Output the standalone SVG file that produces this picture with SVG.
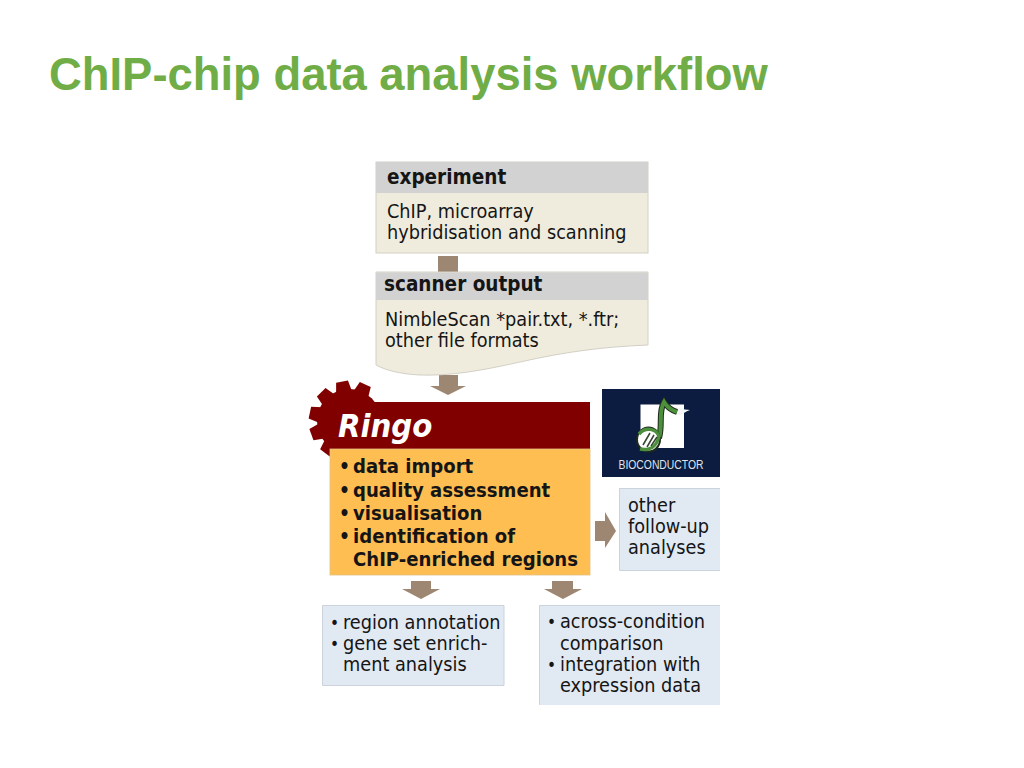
<svg xmlns="http://www.w3.org/2000/svg" width="1024" height="768" viewBox="0 0 1024 768">
<style>
text{font-family:"DejaVu Sans Condensed","DejaVu Sans",sans-serif;font-stretch:condensed;fill:#151515}
.t{font-size:19.700px}
.b{font-size:20.500px;font-weight:bold}
.o{font-size:20.100px;font-weight:bold}
.d{font-size:19px;font-weight:bold}
.s{font-size:17px}
.arrow{fill:#9e8772}
.cream{fill:#f0ecdd;stroke:#d2d0c6;stroke-width:1}
.grey{fill:#d2d2d2}
.blue{fill:#e1e9f3}
.edge{fill:none;stroke:#ccd3dc;stroke-width:1}
</style>
<rect width="1024" height="768" fill="#fff"/>
<text id="title" x="49" y="90" style="font-family:'Liberation Sans',Arial,sans-serif;font-stretch:normal;font-size:45.400px;font-weight:bold;fill:#70ad47">ChIP-chip data analysis workflow</text>
<g id="connectors">
<rect class="arrow" x="438" y="256" width="20" height="17"/>
<path class="arrow" d="M439 375H458V386H466L448 395L430 386H439Z"/>
<path class="arrow" d="M595 521H605V512L616 531L605 548V541H595Z"/>
<path class="arrow" d="M411 581H431V589H440L421 599L402 589H411Z"/>
<path class="arrow" d="M552 581H573V589H582L563 599L544 589H552Z"/>
</g>
<g id="experiment">
<rect class="cream" x="376" y="162" width="272" height="91"/>
<rect class="grey" x="376" y="162" width="272" height="31"/>
<text class="b" x="387" y="184">experiment</text>
<text class="t" x="387" y="218">ChIP, microarray</text>
<text class="t" x="387" y="239">hybridisation and scanning</text>
</g>
<g id="scanner">
<path class="cream" d="M376 272H648V345C600 347 565 352 520 362C480 371 450 376 420 375C400 374 385 370 376 365Z"/>
<rect class="grey" x="376" y="272.500" width="272" height="27.500"/>
<text class="b" x="384" y="291">scanner output</text>
<text class="t" x="385" y="326">NimbleScan *pair.txt, *.ftr;</text>
<text class="t" x="385" y="347">other file formats</text>
</g>
<g id="ringo">
<g fill="#800000">
<circle cx="349" cy="421" r="32"/>
<path d="M341 392L343 381H355L357 392Z" transform="rotate(-10 349 421)"/>
<path d="M341 392L343 381H355L357 392Z" transform="rotate(24 349 421)"/>
<path d="M341 392L343 381H355L357 392Z" transform="rotate(-44 349 421)"/>
<path d="M341 392L343 381H355L357 392Z" transform="rotate(-78 349 421)"/>
<path d="M341 392L343 381H355L357 392Z" transform="rotate(-110 349 421)"/>
<path d="M341 392L343 381H355L357 392Z" transform="rotate(-143 349 421)"/>
<rect x="329" y="402" width="261" height="47"/>
</g>
<rect x="330" y="449" width="260" height="126" fill="#ffbe52" stroke="#e0c080" stroke-width="0.800"/>
<text x="338" y="437" style="font-size:32.500px;font-weight:bold;font-style:italic;fill:#fff">Ringo</text>
<text class="d" x="339" y="473">•</text>
<text class="o" x="353" y="473">data import</text>
<text class="d" x="339" y="497">•</text>
<text class="o" x="353" y="497">quality assessment</text>
<text class="d" x="339" y="520">•</text>
<text class="o" x="353" y="520">visualisation</text>
<text class="d" x="339" y="543">•</text>
<text class="o" x="353" y="543">identification of</text>
<text class="o" x="353" y="566">ChIP-enriched regions</text>
</g>
<g id="bioconductor">
<rect x="602" y="389" width="118" height="88" fill="#0c1c40"/>
<rect x="640.500" y="404.500" width="43.500" height="43.500" fill="#fff"/>
<path d="M663 399C667 405 676 409 690 410C684 412 681 416 677 415C672 413 669 412 666 411Z" fill="#f4f7f4"/>
<path d="M659 438C663 425 658 412 664 402C667 407 671 410 677 412" fill="none" stroke="#1f2b1c" stroke-width="6"/>
<path d="M659 438C663 425 658 412 664 402C667 407 671 410 677 412" fill="none" stroke="#4c8f3c" stroke-width="4"/>
<ellipse cx="648.500" cy="439.500" rx="11.500" ry="12" fill="#fff" stroke="#1f2b1c" stroke-width="2"/>
<path d="M639 434C646 426 656 429 659 436C657 446 650 451 640 449" fill="none" stroke="#4c8f3c" stroke-width="3.500"/>
<path d="M643 445L650 433M647 447L654 435M651 446L657 437" stroke="#33452f" stroke-width="1.500" fill="none"/>
<text x="661" y="469" text-anchor="middle" textLength="85" lengthAdjust="spacingAndGlyphs" style="font-size:12px;fill:#dfe3ea;font-family:'Liberation Sans',sans-serif;font-stretch:normal">BIOCONDUCTOR</text>
</g>
<g id="other">
<rect class="blue" x="619" y="488" width="101" height="82"/>
<path class="edge" d="M720 488.500H619.500V570.500H720"/>
<text class="t" x="628" y="512">other</text>
<text class="t" x="628" y="533">follow-up</text>
<text class="t" x="628" y="554">analyses</text>
</g>
<g id="annotation">
<rect class="blue" x="322" y="605" width="182" height="80"/>
<path class="edge" d="M322.500 605.500H504V685.500H322.500Z"/>
<text class="s" x="330" y="629">•</text>
<text class="t" x="343" y="629">region annotation</text>
<text class="s" x="330" y="650">•</text>
<text class="t" x="343" y="650">gene set enrich-</text>
<text class="t" x="343" y="671">ment analysis</text>
</g>
<g id="comparison">
<rect class="blue" x="539" y="605" width="181" height="100"/>
<path class="edge" d="M720 605.500H539.500V705"/>
<text class="s" x="547" y="628">•</text>
<text class="t" x="560" y="628">across-condition</text>
<text class="t" x="560" y="650">comparison</text>
<text class="s" x="547" y="671">•</text>
<text class="t" x="560" y="671">integration with</text>
<text class="t" x="560" y="692">expression data</text>
</g>
</svg>
